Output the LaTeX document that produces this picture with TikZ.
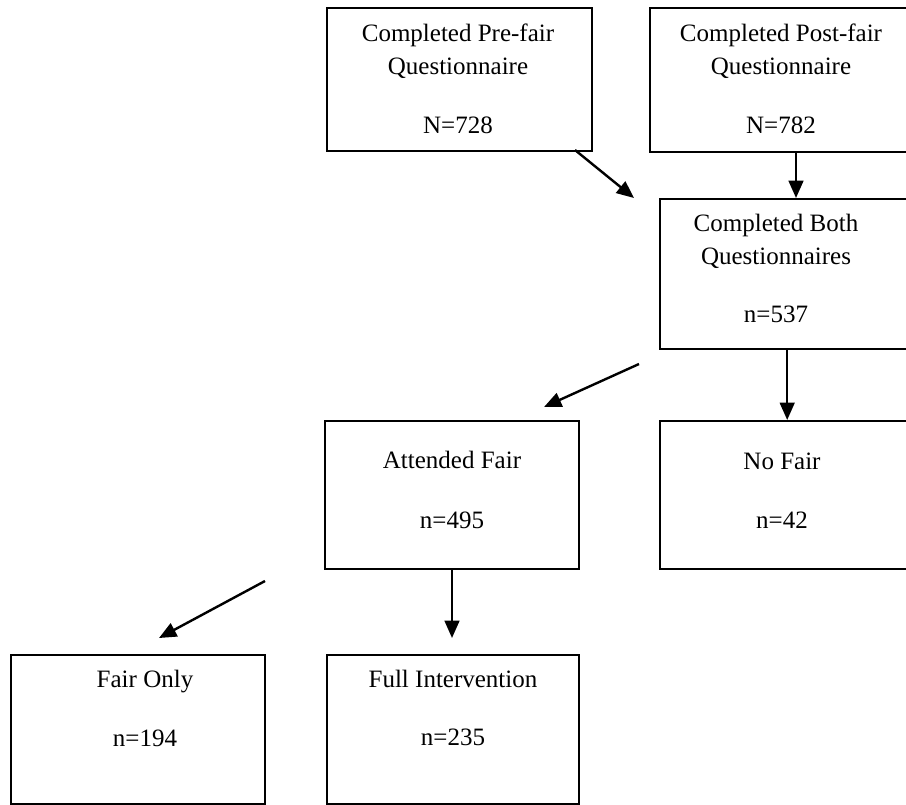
\documentclass[tikz,border=0pt]{standalone}
\usepackage{fontspec}
\setmainfont{Liberation Serif}
\usetikzlibrary{arrows.meta}
\begin{document}
\begin{tikzpicture}[x=0.75pt,y=-0.75pt,
  box/.style={draw, line width=1.8pt, inner sep=0pt, anchor=north west},
  lbl/.style={anchor=base, inner sep=0pt, font=\fontsize{18.75pt}{22pt}\selectfont},
  arr/.style={line width=1.8pt, -{Triangle[length=13pt,width=11pt]}}]
\useasboundingbox (0,0) rectangle (906,804);
\fill[white] (0,0) rectangle (906,804);
\clip (0,0) rectangle (906,804);
% boxes
\node[box, minimum width=198.75pt, minimum height=107.25pt] (pre) at (326,7) {};
\node[box, minimum width=198pt, minimum height=108pt] (post) at (649,7) {};
\node[box, minimum width=190.5pt, minimum height=112.5pt] (both) at (659,198) {};
\node[box, minimum width=190.5pt, minimum height=111pt] (att) at (324,420) {};
\node[box, minimum width=190.5pt, minimum height=111pt] (nofair) at (659,420) {};
\node[box, minimum width=190.5pt, minimum height=111.75pt] (fonly) at (10,654) {};
\node[box, minimum width=189pt, minimum height=111.75pt] (full) at (326,654) {};
% texts
\node[lbl] (pret1) at (458,41) {Completed Pre-fair};
\node[lbl] (pret2) at (458,74) {Questionnaire};
\node[lbl] (pret3) at (458,133) {N=728};
\node[lbl] (postt1) at (781,41) {Completed Post-fair};
\node[lbl] (postt2) at (781,74) {Questionnaire};
\node[lbl] (postt3) at (781,133) {N=782};
\node[lbl] (botht1) at (776,231) {Completed Both};
\node[lbl] (botht2) at (776,264) {Questionnaires};
\node[lbl] (botht3) at (776,322) {n=537};
\node[lbl] (attt1) at (452,468) {Attended Fair};
\node[lbl] (attt2) at (452,528) {n=495};
\node[lbl] (nofairt1) at (782,469) {No Fair};
\node[lbl] (nofairt2) at (782,528) {n=42};
\node[lbl] (fonlyt1) at (145,687) {Fair Only};
\node[lbl] (fonlyt2) at (145,746) {n=194};
\node[lbl] (fullt1) at (453,687) {Full Intervention};
\node[lbl] (fullt2) at (453,745) {n=235};
% connector end points
\coordinate (a1s) at (575,150);
\coordinate (a1e) at (634,198);
\coordinate (a2s) at (796,151);
\coordinate (a3s) at (639,364);
\coordinate (a3e) at (544,407);
\coordinate (a5s) at (265,581);
\coordinate (a5e) at (159,638);
\coordinate (a6e) at (452,638);
% connectors
\draw[arr] (a1s) -- (a1e);
\draw[arr] (a2s) -- (a2s |- both.north);
\draw[arr] (a3s) -- (a3e);
\draw[arr] (both.south) -- (nofair.north);
\draw[arr] (a5s) -- (a5e);
\draw[arr] (a6e |- att.south) -- (a6e);
\end{tikzpicture}
\end{document}
